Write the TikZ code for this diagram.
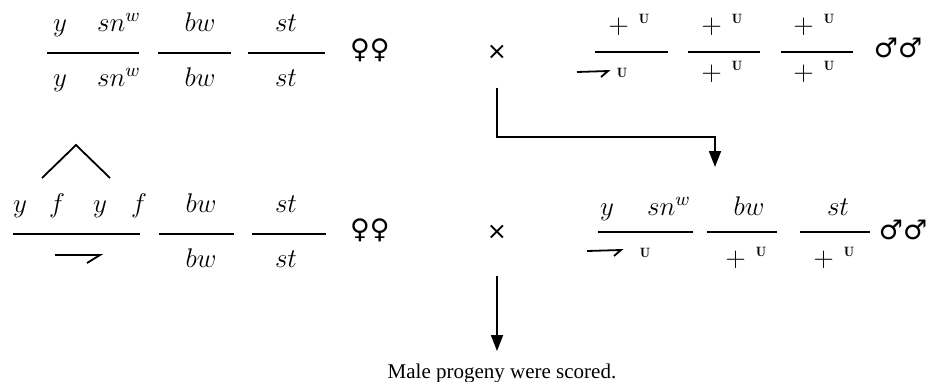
\RequirePackage{fix-cm}
\documentclass[tikz,border=0pt]{standalone}
\usepackage{amsmath,amssymb}
\usepackage{fontspec}
\newfontfamily\notefont{Liberation Serif}
\newfontfamily\sexfont{DejaVu Sans}
\usepackage{tikz}
\usetikzlibrary{arrows.meta}

\begin{document}
\begin{tikzpicture}[x=0.5pt, y=-0.5pt,
  gene/.style={anchor=base, inner sep=0pt, font=\fontsize{13.5}{15}\selectfont},
  wild/.style={gene, anchor=base west},
  sex/.style={inner sep=0pt, font=\sexfont\fontsize{13.5}{15}\selectfont},
  cross/.style={inner sep=0pt, font=\sexfont\fontsize{12}{14}\selectfont},
  bar/.style={line width=0.9pt},
  arr/.style={-{Triangle[length=8pt,width=6pt]}, line width=0.9pt}
]
\useasboundingbox (0,0) rectangle (941,381);

% first cross: females
\node[gene] (fy) at (60,31) {$y$};
\node[gene] (fsn) at (119,31) {$sn^w$};
\node[gene] (fbw) at (200,31) {$bw$};
\node[gene] (fst) at (286,31) {$st$};
\draw[bar] (47,53) -- (139,53);
\draw[bar] (158,53) -- (231,53);
\draw[bar] (248,53) -- (325,53);
\node[gene] (fy2) at (60,86) {$y$};
\node[gene] (fsn2) at (119,86) {$sn^w$};
\node[gene] (fbw2) at (200,86) {$bw$};
\node[gene] (fst2) at (286,86) {$st$};
\node[sex] (fsym) at (370,50) {♀♀};

\node[cross] (cross1) at (497,52) {×};

% first cross: males
\node[wild] (mp1) at (608,33) {$+^{\scriptscriptstyle\kern5pt\mathbf{U}}$};
\node[wild] (mp2) at (701,33) {$+^{\scriptscriptstyle\kern5pt\mathbf{U}}$};
\node[wild] (mp3) at (793,33) {$+^{\scriptscriptstyle\kern5pt\mathbf{U}}$};
\draw[bar] (595,52) -- (668,52);
\draw[bar] (688,52) -- (760,52);
\draw[bar] (781,52) -- (853,52);
\draw[bar] (577,72) -- (608,71) -- (601,77);
\node[gene] (mu1) at (622,77) {$\scriptscriptstyle\mathbf{U}$};
\node[wild] (mp4) at (701,80) {$+^{\scriptscriptstyle\kern5pt\mathbf{U}}$};
\node[wild] (mp5) at (793,80) {$+^{\scriptscriptstyle\kern5pt\mathbf{U}}$};
\node[sex] (msym) at (898,48) {♂♂};

% second cross: females
\draw[bar] (42,178) -- (76,145) -- (110,178);
\node[gene] (gy1) at (20,212) {$y$};
\node[gene] (gf1) at (57,212) {$f$};
\node[gene] (gy2) at (100,212) {$y$};
\node[gene] (gf2) at (139,212) {$f$};
\node[gene] (gbw) at (201,212) {$bw$};
\node[gene] (gst) at (286,212) {$st$};
\draw[bar] (13,234) -- (140,234);
\draw[bar] (159,234) -- (234,234);
\draw[bar] (252,234) -- (326,234);
\draw[bar] (55,255) -- (100,255) -- (87,263);
\node[gene] (gbw2) at (201,267) {$bw$};
\node[gene] (gst2) at (286,267) {$st$};
\node[sex] (gsym) at (370,230) {♀♀};

\node[cross] (cross2) at (497,232) {×};

% second cross: males
\node[gene] (hy) at (607,215) {$y$};
\node[gene] (hsn) at (669,215) {$sn^w$};
\node[gene] (hbw) at (749,215) {$bw$};
\node[gene] (hst) at (838,215) {$st$};
\draw[bar] (598,232) -- (693,232);
\draw[bar] (707,232) -- (777,232);
\draw[bar] (800,232) -- (870,232);
\draw[bar] (587,251) -- (621,250) -- (614,256);
\node[gene] (hu) at (645,257) {$\scriptscriptstyle\mathbf{U}$};
\node[wild] (hp1) at (725,266) {$+^{\scriptscriptstyle\kern5pt\mathbf{U}}$};
\node[wild] (hp2) at (813,266) {$+^{\scriptscriptstyle\kern5pt\mathbf{U}}$};
\node[sex] (hsym) at (903,230) {♂♂};

\node[anchor=base, inner sep=2pt, font=\notefont\fontsize{10.5}{12}\selectfont]
  (scored) at (502,378) {Male progeny were scored.};

\coordinate (bend) at (715,137);
\coordinate (gate) at (715,167);
\draw[arr, shorten <=14pt] (cross1.south) |- (bend) -- (gate);
\draw[arr, shorten <=18pt, shorten >=4pt] (cross2.south) -- (cross2.south |- scored.north);
\end{tikzpicture}
\end{document}
